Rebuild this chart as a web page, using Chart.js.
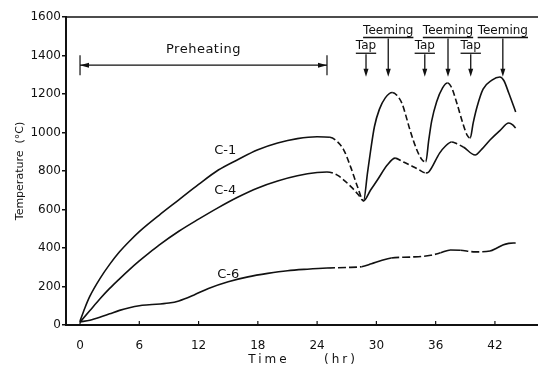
<!DOCTYPE html>
<html>
<head>
<meta charset="utf-8">
<script src="https://cdn.jsdelivr.net/npm/chart.js@4.4.1/dist/chart.umd.min.js"></script>
<style>
  html, body { margin: 0; padding: 0; background: #fff; }
  #wrap { width: 538px; height: 367px; position: relative; }
</style>
</head>
<body>
<div id="wrap"><canvas id="chart"></canvas></div>
<script>
// axis ticks
const xTicks = [0, 6, 12, 18, 24, 30, 36, 42];
const yTicks = [0, 200, 400, 600, 800, 1000, 1200, 1400, 1600];

// C-1 thermocouple
const c1Hours = [0, 0.5, 1, 2, 3, 4, 5, 6, 8, 10, 12, 14, 16, 18, 20, 22, 24, 25.3, 26.0, 26.7, 27.4, 28.1, 28.7,
  29.1, 29.4, 29.8, 30.3, 30.9, 31.6, 32.1, 32.6, 33.0, 33.4, 34.1, 34.6, 35.0, 35.3, 35.6, 36.1, 36.7, 37.2, 37.6,
  38.1, 38.8, 39.2, 39.5, 39.8, 40.2, 40.8, 41.7, 42.5, 42.9, 43.4, 44.1];
const c1Temps = [20, 90, 150, 240, 315, 380, 435, 485, 570, 650, 730, 805, 860, 910, 945, 968, 978, 975, 955, 909, 820, 717, 645,
  790, 900, 1030, 1120, 1180, 1208, 1192, 1150, 1085, 1013, 909, 860, 847, 960, 1060, 1160, 1232, 1257, 1235,
  1160, 1040, 985, 971, 1050, 1135, 1225, 1272, 1288, 1270, 1205, 1107];

// C-4 thermocouple
const c4Hours = [0, 1, 2, 3, 4, 5, 6, 7, 8, 10, 12, 14, 16, 18, 20, 22, 24, 25.0, 26.0, 26.7, 27.5, 28.2, 28.7,
  29.4, 30.1, 31.1, 31.9, 32.6, 33.4, 34.2, 35.0, 35.3, 36.4, 37.0, 37.6, 38.2, 38.8, 40.0, 40.7, 41.5, 42.5,
  43.4, 43.8, 44.1];
const c4Temps = [15, 75, 135, 190, 240, 288, 333, 375, 415, 487, 550, 610, 665, 712, 748, 775, 792, 795, 780, 753, 715, 675, 645,
  700, 753, 831, 867, 850, 831, 810, 790, 795, 893, 930, 951, 940, 925, 883, 915, 961, 1010,
  1049, 1040, 1023];

// C-6 thermocouple
const c6Hours = [0, 1, 2, 3, 4, 5, 6, 7, 9, 10, 11.5, 13, 15, 17, 19, 21, 23, 25, 27, 28.5, 29.5, 30.5, 31.5,
  33.5, 35.5, 36.5, 37.5, 38.5, 40, 41.5, 42.2, 42.8, 43.4, 44.1];
const c6Temps = [16, 25, 40, 58, 76, 90, 100, 105, 114, 125, 155, 190, 225, 250, 268, 282, 290, 296, 299, 303, 318, 335, 348,
  353, 362, 375, 390, 388, 380, 384, 400, 416, 424, 426];

// operations
const preheatPeriod = [0, 25];
const tapHours = [28.95, 34.9, 39.55];
const teemingHours = [31.2, 37.25, 42.8];

// dashed stretches of each curve (hours)
const c1DashRanges = [[25.3, 28.7], [31.6, 35.0], [37.2, 39.5]];
const c4DashRanges = [[25.0, 28.7], [31.9, 35.0], [37.4, 39.0]];
const c6DashRanges = [[24, 29], [31, 36.5], [38.5, 41.5]];

const toPoints = (xs, ys) => xs.map((x, i) => ({ x, y: ys[i] }));

const dashIn = (ranges, pattern) => (ctx) => {
  const mid = (ctx.p0.parsed.x + ctx.p1.parsed.x) / 2;
  return ranges.some(([a, b]) => mid > a && mid < b) ? pattern : undefined;
};

const curve = (label, xs, ys, ranges, pattern) => ({
  label,
  data: toPoints(xs, ys),
  borderColor: "#111",
  borderWidth: 1.6,
  pointRadius: 0,
  cubicInterpolationMode: "monotone",
  fill: false,
  segment: { borderDash: dashIn(ranges, pattern) },
});

const FONT = "'DejaVu Sans', sans-serif";

const arrowDown = (ctx, x, y0, y1) => {
  ctx.beginPath();
  ctx.moveTo(x, y0);
  ctx.lineTo(x, y1 - 6);
  ctx.stroke();
  ctx.beginPath();
  ctx.moveTo(x - 2.5, y1 - 8);
  ctx.lineTo(x + 2.5, y1 - 8);
  ctx.lineTo(x, y1);
  ctx.closePath();
  ctx.fill();
};

const underlinedText = (ctx, text, cx, cy, maxRight) => {
  const w = ctx.measureText(text).width;
  let left = cx - w / 2;
  if (left + w > maxRight) left = maxRight - w;
  ctx.textAlign = "left";
  ctx.textBaseline = "middle";
  ctx.fillText(text, left, cy);
  ctx.beginPath();
  ctx.moveTo(left, cy + 7);
  ctx.lineTo(left + w, cy + 7);
  ctx.stroke();
};

const decorations = {
  id: "decorations",
  afterDraw(chart) {
    const { ctx, chartArea, scales: { x, y } } = chart;
    ctx.save();
    ctx.strokeStyle = "#111";
    ctx.fillStyle = "#111";

    // top frame line
    ctx.lineWidth = 1.5;
    ctx.beginPath();
    ctx.moveTo(chartArea.left, chartArea.top);
    ctx.lineTo(chartArea.right, chartArea.top);
    ctx.stroke();

    // inward x ticks
    ctx.lineWidth = 1.2;
    xTicks.forEach((v) => {
      const px = x.getPixelForValue(v);
      ctx.beginPath();
      ctx.moveTo(px, chartArea.bottom);
      ctx.lineTo(px, chartArea.bottom - 4);
      ctx.stroke();
    });

    // x axis title, spaced out like the original
    const mid = (chartArea.left + chartArea.right) / 2;
    ctx.font = `12px ${FONT}`;
    ctx.letterSpacing = "3px";
    ctx.textAlign = "center";
    ctx.textBaseline = "middle";
    ctx.fillText("Time", mid - 33, 360);
    ctx.fillText("(hr)", mid + 39, 360);
    ctx.letterSpacing = "0px";

    // preheating span
    const py = y.getPixelForValue(1350);
    const pl = x.getPixelForValue(preheatPeriod[0]);
    const pr = x.getPixelForValue(preheatPeriod[1]);
    ctx.lineWidth = 1.2;
    ctx.beginPath();
    ctx.moveTo(pl, py);
    ctx.lineTo(pr, py);
    ctx.moveTo(pl, py - 10);
    ctx.lineTo(pl, py + 10);
    ctx.moveTo(pr, py - 10);
    ctx.lineTo(pr, py + 10);
    ctx.stroke();
    [[pl, 1], [pr, -1]].forEach(([ex, dir]) => {
      ctx.beginPath();
      ctx.moveTo(ex, py);
      ctx.lineTo(ex + dir * 9, py - 2.5);
      ctx.lineTo(ex + dir * 9, py + 2.5);
      ctx.closePath();
      ctx.fill();
    });
    ctx.font = `13px ${FONT}`;
    ctx.letterSpacing = "0.5px";
    ctx.textAlign = "center";
    ctx.textBaseline = "middle";
    ctx.fillText("Preheating", (pl + pr) / 2, y.getPixelForValue(1430));
    ctx.letterSpacing = "0px";

    // tap and teeming arrows
    const tip = y.getPixelForValue(1290);
    ctx.lineWidth = 1.3;
    ctx.font = `12px ${FONT}`;
    tapHours.forEach((h) => {
      const px = x.getPixelForValue(h);
      const ty = y.getPixelForValue(1448);
      underlinedText(ctx, "Tap", px, ty, chart.width - 3);
      arrowDown(ctx, px, ty + 8, tip);
    });
    teemingHours.forEach((h) => {
      const px = x.getPixelForValue(h);
      const ty = y.getPixelForValue(1530);
      underlinedText(ctx, "Teeming", px, ty, chart.width - 3);
      arrowDown(ctx, px, ty + 8, tip);
    });

    // curve labels
    ctx.font = `13px ${FONT}`;
    ctx.textAlign = "center";
    ctx.textBaseline = "middle";
    ctx.fillText("C-1", x.getPixelForValue(14.7), y.getPixelForValue(905));
    ctx.fillText("C-4", x.getPixelForValue(14.7), y.getPixelForValue(700));
    ctx.fillText("C-6", x.getPixelForValue(15.0), y.getPixelForValue(262));
    ctx.restore();
  },
};

new Chart(document.getElementById("chart"), {
  type: "line",
  data: {
    datasets: [
      curve("C-1", c1Hours, c1Temps, c1DashRanges, [6, 3]),
      curve("C-4", c4Hours, c4Temps, c4DashRanges, [6, 3]),
      curve("C-6", c6Hours, c6Temps, c6DashRanges, [8, 3]),
    ],
  },
  options: {
    responsive: true,
    maintainAspectRatio: false,
    animation: false,
    layout: { padding: { top: 17, right: 0, left: 0, bottom: 0 } },
    plugins: { legend: { display: false }, tooltip: { enabled: false } },
    scales: {
      x: {
        type: "linear",
        min: -1.42,
        max: 46.36,
        afterBuildTicks: (scale) => { scale.ticks = xTicks.map((value) => ({ value })); },
        afterFit: (scale) => { scale.height = 42; },
        border: { display: true, color: "#111", width: 2 },
        grid: { display: false },
        ticks: {
          color: "#111",
          padding: 6,
          maxRotation: 0,
          font: { family: FONT, size: 12 },
          callback: (value) => String(value),
        },
      },
      y: {
        min: 0,
        max: 1600,
        afterBuildTicks: (scale) => { scale.ticks = yTicks.map((value) => ({ value })); },
        afterFit: (scale) => { scale.width = 66; },
        border: { display: true, color: "#111", width: 2 },
        grid: { drawOnChartArea: false, tickLength: 4, color: "#111", lineWidth: 1.5 },
        ticks: {
          color: "#111",
          padding: 1,
          font: { family: FONT, size: 12 },
          callback: (value) => String(value),
        },
        title: {
          display: true,
          text: "Temperature  (°C)",
          color: "#111",
          padding: { top: 14, bottom: 0 },
          font: { family: FONT, size: 11 },
        },
      },
    },
  },
  plugins: [decorations],
});
</script>
</body>
</html>
